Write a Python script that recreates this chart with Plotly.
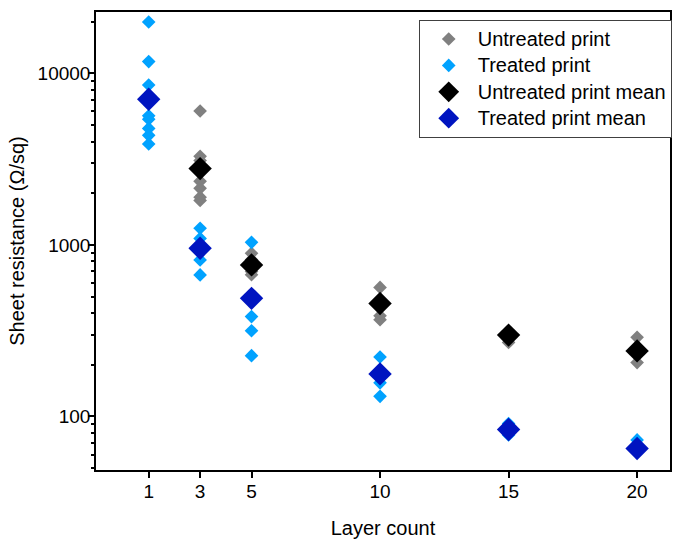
import plotly.graph_objects as go

# Layer counts for each measured print
untreated_x = [3, 3, 3, 3, 3, 3, 3,
               5, 5, 5, 5,
               10, 10, 10, 10,
               15, 15,
               20, 20]
untreated_y = [6030, 3280, 3100, 2345, 2135, 1897, 1815,
               893, 820, 700, 670,
               565, 470, 386, 366,
               312, 270,
               289, 206]

treated_x = [1, 1, 1, 1, 1, 1, 1, 1,
             3, 3, 3, 3, 3,
             5, 5, 5, 5, 5,
             10, 10, 10, 10,
             15, 15,
             20, 20]
treated_y = [19900, 11690, 8540, 5650, 5400, 4770, 4350, 3870,
             1250, 1090, 927, 817, 668,
             1035, 500, 382, 316, 226,
             222, 185, 157, 131,
             91, 78,
             73, 66]

mean_x = [1, 3, 5, 10, 15, 20]
untreated_mean = [None, 2782, 764, 455, 298, 241]
treated_mean = [7050, 955, 488, 177, 84, 65]

tick_vals = [1, 3, 5, 10, 15, 20]

FONT = "Liberation Sans, Arial, sans-serif"


def legend_label(text):
    # legend rows stay compact while the label text is drawn a little larger
    return f"<span style='font-size:20px'>{text}</span>"


fig = go.Figure()
fig.add_trace(go.Scatter(
    x=untreated_x, y=untreated_y, mode="markers", name=legend_label("Untreated print"),
    marker=dict(symbol="diamond", size=10.5, color="#808080", line_width=0)))
fig.add_trace(go.Scatter(
    x=treated_x, y=treated_y, mode="markers", name=legend_label("Treated print"),
    marker=dict(symbol="diamond", size=10.5, color="#00A2FF", line_width=0)))
fig.add_trace(go.Scatter(
    x=mean_x, y=untreated_mean, mode="markers", name=legend_label("Untreated print mean"),
    marker=dict(symbol="diamond", size=18, color="#000000", line_width=0)))
fig.add_trace(go.Scatter(
    x=mean_x, y=treated_mean, mode="markers", name=legend_label("Treated print mean"),
    marker=dict(symbol="diamond", size=18, color="#0014C0", line_width=0)))

axis_common = dict(
    showline=True, linecolor="black", linewidth=1.5, mirror=True,
    ticks="outside", tickcolor="black", tickwidth=1.5, ticklen=6,
    showgrid=False, zeroline=False,
    tickfont=dict(family=FONT, size=19, color="black"),
)

fig.update_xaxes(
    range=[-1.05, 21.28], tickvals=tick_vals, ticktext=[str(v) for v in tick_vals],
    ticklabelstandoff=-3,
    title=dict(text="Layer count", font=dict(family=FONT, size=20, color="black"), standoff=20),
    **axis_common)
fig.update_yaxes(
    type="log", range=[1.688, 4.357], dtick=1, tickformat="d",
    ticklabelstandoff=-6,
    minor=dict(ticks="outside", ticklen=3.5, tickcolor="black", tickwidth=1.5, dtick="D1", showgrid=False),
    title=dict(text="Sheet resistance (Ω/sq)", font=dict(family=FONT, size=20, color="black"), standoff=8),
    **axis_common)

fig.update_layout(
    width=678, height=546,
    margin=dict(l=96, r=6, t=12, b=76),
    plot_bgcolor="white", paper_bgcolor="white",
    font=dict(family=FONT, size=20, color="black"),
    showlegend=True,
    legend=dict(
        x=1.003, y=0.983, xanchor="right", yanchor="top",
        bgcolor="white", bordercolor="#404040", borderwidth=1,
        font=dict(family=FONT, size=18, color="black"),
        itemsizing="trace", itemwidth=48, tracegroupgap=0,
    ),
)

fig.write_html("out.html")
